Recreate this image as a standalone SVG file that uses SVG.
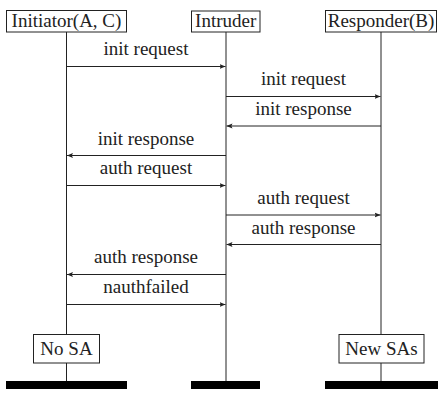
<svg xmlns="http://www.w3.org/2000/svg" width="438" height="406" viewBox="0 0 438 406">
<style>
.box{fill:#fff;stroke:#222;stroke-width:1}
.life{stroke:#222;stroke-width:1;fill:none}
.msg{stroke:#222;stroke-width:1;fill:none;marker-end:url(#ah)}
text{font-family:"Liberation Serif","DejaVu Serif",serif;font-size:19px;fill:#222;text-anchor:middle}
.bar{fill:#000}
</style>
<defs>
<marker id="ah" viewBox="0 0 10 10" refX="10" refY="5" markerWidth="6" markerHeight="6" markerUnits="userSpaceOnUse" orient="auto">
<path d="M0,1 L10,5 L0,9 L2,5 Z" fill="#222"/>
</marker>
</defs>
<g id="lifelines">
<line class="life" x1="66.5" y1="32" x2="66.5" y2="382"/>
<line class="life" x1="226" y1="32" x2="226" y2="382"/>
<line class="life" x1="381" y1="32" x2="381" y2="382"/>
</g>
<g id="connectors">
<line class="msg" x1="66.5" y1="66.5" x2="225.5" y2="66.5"/>
<text x="146" y="55">init request</text>
<line class="msg" x1="226" y1="96.5" x2="380.5" y2="96.5"/>
<text x="303.5" y="85">init request</text>
<line class="msg" x1="381" y1="126" x2="226.5" y2="126"/>
<text x="303.5" y="115">init response</text>
<line class="msg" x1="226" y1="155.5" x2="67" y2="155.5"/>
<text x="146" y="144.5">init response</text>
<line class="msg" x1="66.5" y1="185.5" x2="225.5" y2="185.5"/>
<text x="146" y="174">auth request</text>
<line class="msg" x1="226" y1="215" x2="380.5" y2="215"/>
<text x="303.5" y="204">auth request</text>
<line class="msg" x1="381" y1="244.5" x2="226.5" y2="244.5"/>
<text x="303.5" y="233.5">auth response</text>
<line class="msg" x1="226" y1="274.5" x2="67" y2="274.5"/>
<text x="146" y="263">auth response</text>
<line class="msg" x1="66.5" y1="304.5" x2="225.5" y2="304.5"/>
<text x="146" y="293">nauthfailed</text>
</g>
<g id="initiator">
<rect class="box" x="6.5" y="10.5" width="120" height="21.5"/>
<text x="66.5" y="26.5">Initiator(A, C)</text>
</g>
<g id="intruder">
<rect class="box" x="191.5" y="11" width="68.5" height="21"/>
<text x="225.7" y="27">Intruder</text>
</g>
<g id="responder">
<rect class="box" x="325.5" y="10.5" width="111" height="21.5"/>
<text x="381" y="26.5">Responder(B)</text>
</g>
<g id="nosa">
<rect class="box" x="33.5" y="334.5" width="66" height="28.5"/>
<text x="66.5" y="355">No SA</text>
</g>
<g id="newsas">
<rect class="box" x="339" y="334.5" width="85" height="28.5"/>
<text x="381.5" y="355">New SAs</text>
</g>
<g id="bars">
<rect class="bar" x="6" y="381" width="121" height="8"/>
<rect class="bar" x="191" y="381" width="69" height="8"/>
<rect class="bar" x="325" y="381" width="113" height="8"/>
</g>
</svg>
